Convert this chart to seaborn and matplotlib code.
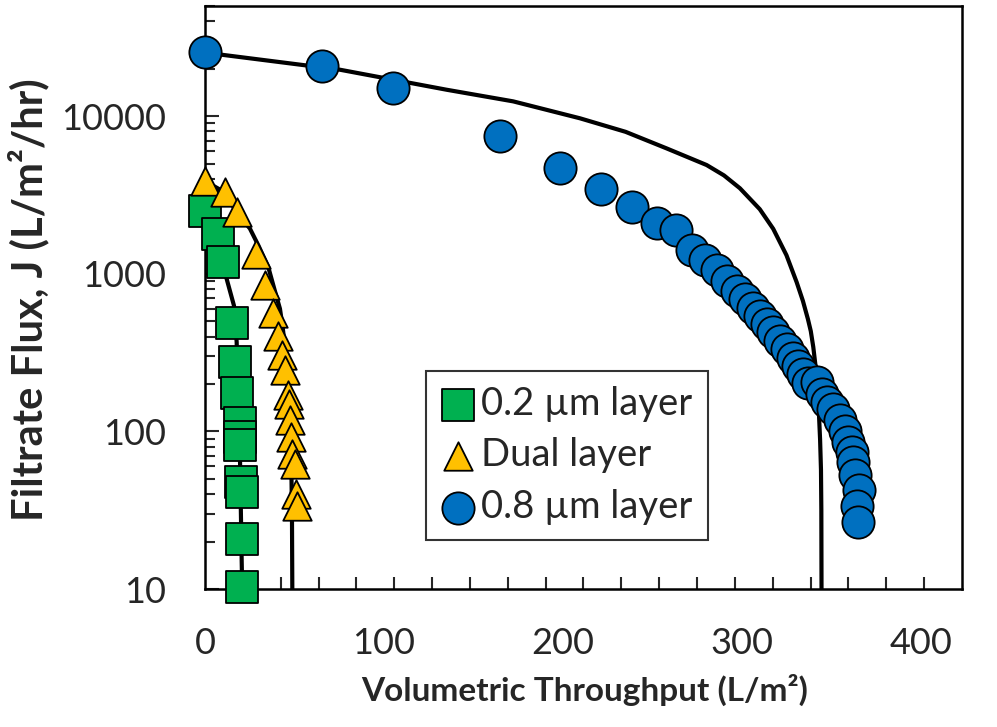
import numpy as np
import pandas as pd
import matplotlib
matplotlib.use("Agg")
import matplotlib.pyplot as plt
from matplotlib.ticker import FixedLocator, FuncFormatter, LogLocator, NullFormatter
import seaborn as sns

# values
x_02 = [0, 7.1, 10.2, 14.9, 16.8, 18.0, 19.3, 19.6, 19.8, 20.4, 20.5, 20.8, 20.8]
y_02 = [2497, 1800, 1188, 487, 276, 175, 112.5, 92.5, 81.8, 47.9, 41.3, 20.8, 10.25]

x_dual = [0, 11.2, 17.7, 28.3, 33.5, 38.2, 40.9, 43.2, 44.7, 46.2, 46.9, 47.5, 48.0, 48.8, 50.3, 50.7, 51.2]
y_dual = [3873, 3283, 2450, 1340, 851, 565, 401, 306, 247, 170, 149, 118, 92.5, 72.4, 62.5, 40.3, 33.4]

x_08 = [0, 65.2, 105.2, 164.8, 198.3, 221.2, 238.4, 252.3, 263.1, 271.9, 279.3, 285.9, 291.5,
        297.0, 301.7, 306.3, 310.1, 313.8, 317.5, 321.2, 325.0, 328.7, 331.4, 334.2, 337.0,
        341.7, 344.5, 347.5, 350.8, 354.7, 357.5, 359.4, 361.3, 362.2, 363.1, 365.4, 364.2, 365.0]
y_08 = [25470, 20760, 15070, 7540, 4710, 3475, 2660, 2113, 1888, 1406, 1216, 1050, 906,
        783, 694, 605, 542, 481, 425, 376, 333, 294, 260, 231, 204,
        205, 172, 153, 138, 119, 100.5, 85.1, 73.5, 63.5, 53.2, 42.7, 33.4, 26.8]

# model curves (black lines)
fit_x_02 = [0, 7.1, 10.1, 12.1, 16.2, 17.7, 19.6, 20.5, 20.8]
fit_y_02 = [2497, 1800, 1211, 929, 628, 369, 63.5, 15.3, 10]

fit_x_dual = [0, 11.2, 17.7, 25.1, 30, 35.4, 39, 41.9, 43.5, 44.7, 45.8, 46.9, 47.8, 48.3, 48.6, 48.8]
fit_y_dual = [3873, 3283, 2450, 1937, 1500, 1100, 783, 600, 450, 340, 230, 150, 85, 55, 30, 10]

fit_x_08 = [0, 9.3, 75.4, 135.0, 172.2, 209.5, 235, 257.9, 280.3, 290, 298.9, 310, 317.5,
            324.9, 330.6, 334.1, 336.9, 338.5, 339.9, 341.1, 342.2, 343.0, 343.7, 344.2,
            344.4, 344.5]
fit_y_08 = [25470, 24550, 19720, 14720, 12420, 9700, 7960, 6250, 4900, 4210, 3490, 2570, 1930,
            1313, 885, 673, 516, 433, 343, 263, 185, 134, 89, 57,
            31.8, 10]

sns.set_theme(style="white")
plt.rcParams['font.family'] = ['Lato', 'DejaVu Sans']

fig = plt.figure(figsize=(9.97, 7.27), dpi=100)
ax = fig.add_axes([0.2056, 0.1898, 0.7593, 0.8019])

for fx, fy in [(fit_x_02, fit_y_02), (fit_x_dual, fit_y_dual), (fit_x_08, fit_y_08)]:
    sns.lineplot(x=fx, y=fy, sort=False, estimator=None, color='black', lw=3, ax=ax, zorder=2)

sns.scatterplot(x=x_02, y=y_02, marker='s', s=500, color='#00B050', edgecolor='black',
                linewidth=1.3, ax=ax, label='0.2 µm layer', clip_on=False, zorder=3)
sns.scatterplot(x=x_dual, y=y_dual, marker='^', s=420, color='#FFC000', edgecolor='black',
                linewidth=1.3, ax=ax, label='Dual layer', clip_on=False, zorder=4)
sns.scatterplot(x=x_08, y=y_08, marker='o', s=540, color='#0070C0', edgecolor='black',
                linewidth=1.3, ax=ax, label='0.8 µm layer', clip_on=False, zorder=5)

ax.set_yscale('log')
ax.set_ylim(10, 50000)
ax.set_xlim(0, 423)

ax.xaxis.set_major_locator(FixedLocator([0, 100, 200, 300, 400]))
ax.xaxis.set_minor_locator(FixedLocator(np.linspace(0, 423, 21)[1:-1]))
ax.yaxis.set_major_locator(FixedLocator([10, 100, 1000, 10000]))
ax.yaxis.set_major_formatter(FuncFormatter(lambda v, p: f"{v:.0f}"))
ax.yaxis.set_minor_locator(LogLocator(base=10, subs=np.arange(2, 10)))
ax.yaxis.set_minor_formatter(NullFormatter())

ax.tick_params(axis='x', which='major', direction='in', length=0, pad=27, labelsize=26)
ax.tick_params(axis='x', which='minor', direction='in', length=9, width=1.5, bottom=True)
ax.tick_params(axis='y', which='major', direction='in', length=10, width=1.5, pad=28,
               labelsize=26, left=True)
ax.tick_params(axis='y', which='minor', direction='in', length=7, width=1.5, left=True)

for sp in ax.spines.values():
    sp.set_color('black')
    sp.set_linewidth(1.8)

ax.set_xlabel('')
ax.set_ylabel('')
fig.text(585 / 997, 1 - 690 / 727, 'Volumetric Throughput (L/m²)', ha='center', va='center',
         fontsize=24, fontweight='bold')
fig.text(28 / 997, 1 - 300 / 727, 'Filtrate Flux, J (L/m²/hr)', ha='center', va='center',
         rotation=90, fontsize=30, fontweight='bold')

leg = ax.legend(loc='lower left', bbox_to_anchor=(0.292, 0.084), fontsize=27.5,
                frameon=True, fancybox=False, edgecolor='black', handletextpad=0.15,
                borderpad=0.4, labelspacing=0.4, handlelength=0.9, borderaxespad=0)
leg.get_frame().set_linewidth(1.5)

fig.savefig('out.png', dpi=100)
